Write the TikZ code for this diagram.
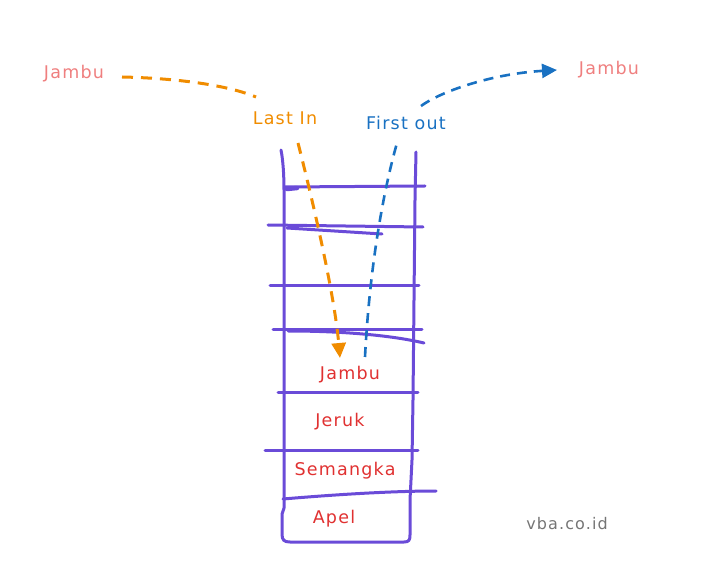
\documentclass[tikz,border=0pt]{standalone}
\usepackage{fontspec}
\setmainfont[LetterSpace=7]{DejaVu Sans}
\usetikzlibrary{arrows.meta,calc}
\definecolor{violetc}{HTML}{6A4BD8}
\definecolor{redc}{HTML}{E03131}
\definecolor{pinkc}{HTML}{EF7F7F}
\definecolor{orangec}{HTML}{F08C00}
\definecolor{bluec}{HTML}{1971C2}
\definecolor{grayc}{HTML}{757575}
\begin{document}
\begin{tikzpicture}[x=1pt,y=-1pt,
  wall/.style={violetc,line width=3pt,line cap=round,line join=round},
  lbl/.style={font=\fontsize{17.5}{20}\selectfont,inner sep=2pt},
  orangeline/.style={orangec,line width=3pt,dash pattern=on 11pt off 8pt},
  blueline/.style={bluec,line width=2.6pt,dash pattern=on 10pt off 7pt},
  tip/.style={-{Triangle[length=15pt,width=14pt]}}]
\useasboundingbox (0,0) rectangle (718,577);
% stack walls
\draw[wall] (281,150) .. controls (283,160) and (284,175) .. (284,190) -- (284,508) -- (282,514) -- (282,534)
  .. controls (282,540) and (284,542) .. (290,542) -- (404,542)
  .. controls (409,542) and (410,540) .. (410,535) -- (410,500) -- (412,460) -- (413,400) -- (414,300) -- (415,200) -- (416,152);
% rungs
\draw[wall] (285,187) -- (425,186);
\draw[wall,line width=4.5pt] (287,189) -- (297,188);
\draw[wall] (268,225) -- (423,227);
\draw[wall] (287,228) -- (382,234);
\draw[wall] (270,286) -- (419,286);
\draw[wall] (273,330) -- (422,330);
\draw[wall] (288,331) .. controls (340,331) and (390,335) .. (424,343);
\draw[wall] (278,393) -- (418,393);
\draw[wall] (265,450) -- (418,450);
\draw[wall] (283,499) .. controls (330,495) and (390,491) .. (436,491);
% labels
\node[lbl,text=pinkc] (jl) at (74,74) {Jambu};
\node[lbl,text=pinkc] (jr) at (609,70) {Jambu};
\node[lbl,text=orangec] (lin) at (285,118) {Last In};
\node[lbl,text=bluec] (fo) at (406,123) {First out};
\node[lbl,text=redc] (s1) at (350,375) {Jambu};
\node[lbl,text=redc] (s2) at (340,422) {Jeruk};
\node[lbl,text=redc] (s3) at (345,471) {Semangka};
\node[lbl,text=redc] (s4) at (334,519) {Apel};
\node[lbl,text=grayc,font=\fontsize{16}{19}\selectfont] (web) at (567,524) {vba.co.id};
% orange arrow (Last In)
\coordinate (otip) at (340,358);
\draw[orangeline] ($(jl)+(48,3)$) .. controls (170,78) and (225,84) .. ($(lin)+(-29,-21)$);
\draw[orangeline,tip] ($(lin)+(13,25)$) .. controls (310,190) and (334,290) .. (otip);
% blue arrow (First out)
\coordinate (bst) at (365,357);
\draw[blueline] (bst) .. controls (370,260) and (385,185) .. ($(fo)+(-9,20)$);
\draw[blueline,tip] ($(fo)+(15,-17)$) .. controls (440,92) and (490,74) .. ($(jr)+(-52,0)$);
\end{tikzpicture}
\end{document}
